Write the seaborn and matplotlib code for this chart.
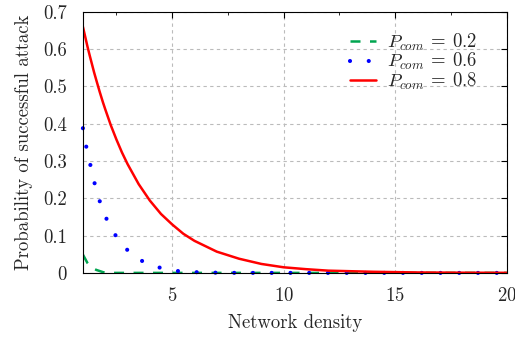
import matplotlib
matplotlib.use('Agg')
import matplotlib.pyplot as plt
import seaborn as sns
from matplotlib.ticker import MultipleLocator

# values
density = [1, 1.1, 1.2, 1.3, 1.4, 1.5, 1.6, 1.75, 1.9, 2, 2.25, 2.5, 2.75, 3, 3.5, 4, 4.5,
           5, 5.5, 6, 7, 8, 9, 10, 11, 12, 14, 16, 18, 20]
p_02 = [0.049, 0.038, 0.027, 0.02, 0.015, 0.011, 0.008, 0.005, 0.002, 0.001, 0, 0, 0, 0, 0,
        0, 0, 0, 0, 0, 0, 0, 0, 0, 0, 0, 0, 0, 0, 0]
p_06 = [0.388, 0.352, 0.325, 0.298, 0.273, 0.246, 0.222, 0.193, 0.167, 0.152, 0.122, 0.097,
        0.077, 0.061, 0.036, 0.023, 0.013, 0.006, 0.004, 0.002, 0.0005, 0, 0, 0, 0, 0, 0, 0,
        0, 0]
p_08 = [0.66, 0.634, 0.608, 0.584, 0.561, 0.538, 0.517, 0.486, 0.457, 0.439, 0.396, 0.358,
        0.323, 0.292, 0.238, 0.194, 0.158, 0.13, 0.105, 0.086, 0.057, 0.038, 0.024, 0.015,
        0.01, 0.006, 0.003, 0.0012, 0.0005, 0.0002]

yticks = [0, 0.1, 0.2, 0.3, 0.4, 0.5, 0.6, 0.7]
ytick_labels = ['0', '0.1', '0.2', '0.3', '0.4', '0.5', '0.6', '0.7']
xticks = [5, 10, 15, 20]

sns.set_style('white')
plt.rcParams['font.family'] = ['cmr10', 'DejaVu Serif']
plt.rcParams['mathtext.fontset'] = 'cm'
plt.rcParams['axes.formatter.use_mathtext'] = True

fig, ax = plt.subplots(figsize=(5.15, 3.39), dpi=100)
fig.subplots_adjust(left=0.161, right=0.984, top=0.965, bottom=0.195)

sns.lineplot(x=density, y=p_02, ax=ax, color='#00a550', lw=1.8,
             linestyle=(0, (4.0, 3.8)), label=r'$P_{com}\:=\:0.2$')
sns.lineplot(x=density, y=p_06, ax=ax, color='#0000ff', lw=3.0, clip_on=False,
             linestyle=(0, (0.001, 4.5)), dash_capstyle='round', label=r'$P_{com}\:=\:0.6$')
sns.lineplot(x=density, y=p_08, ax=ax, color='#ff0000', lw=1.8, label=r'$P_{com}\:=\:0.8$')

ax.set_xlim(1, 20)
ax.set_ylim(0, 0.7)
ax.set_xticks(xticks)
ax.xaxis.set_minor_locator(MultipleLocator(2.5))
ax.set_yticks(yticks)
ax.set_yticklabels(ytick_labels)
ax.tick_params(which='both', direction='in', top=True, right=True, labelsize=13.5, color='black')
ax.tick_params(which='major', length=4)
ax.tick_params(which='minor', length=2.5)
ax.tick_params(axis='y', pad=11.5)
ax.tick_params(axis='x', pad=10.5)
ax.grid(True, color='#bbbbbb', linestyle=(0, (3, 3)), lw=0.8)
for s in ax.spines.values():
    s.set_color('black')
    s.set_linewidth(0.8)

ax.set_xlabel('Network density', fontsize=13.5, labelpad=6)
ax.set_ylabel('Probability of successful attack', fontsize=13.5, labelpad=7)

ax.legend(loc='upper right', frameon=False, fontsize=13.5, handlelength=1.4,
          labelspacing=-0.1, borderaxespad=0.6, handletextpad=0.6,
          bbox_to_anchor=(0.975, 0.995))

plt.savefig('out.png')
